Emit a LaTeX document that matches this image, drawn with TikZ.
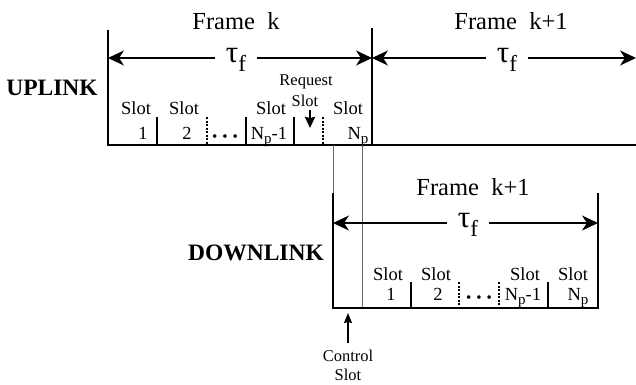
\documentclass[tikz,border=0pt]{standalone}
\usepackage{fontspec}
\setmainfont{Liberation Serif}
\usetikzlibrary{arrows.meta}
\begin{document}
\begin{tikzpicture}[x=1pt,y=-1pt,
 frameline/.style={line width=2.4pt},
 divline/.style={line width=1.5pt},
 dashdiv/.style={line width=1.1pt, dash pattern=on 2pt off 1.5pt},
 guide/.style={line width=0.8pt, draw=black!60},
 dimline/.style={line width=2pt, {Stealth[length=16pt,width=15pt,inset=5pt]}-{Stealth[length=16pt,width=15pt,inset=5pt]}},
 taulbl/.style={fill=white, inner xsep=11pt, inner ysep=1pt, anchor=base},
 framelbl/.style={font=\fontsize{24.5}{24.5}\selectfont, anchor=base, inner sep=0pt},
 linklbl/.style={font=\bfseries\fontsize{23.5}{23.5}\selectfont, anchor=base, inner sep=0pt},
 slotlbl/.style={font=\fontsize{18.5}{18.5}\selectfont, anchor=base, inner sep=0pt},
 smalllbl/.style={font=\fontsize{16.5}{16.5}\selectfont, anchor=base, inner sep=0pt},
 ptr/.style={line width=2pt, -{Stealth[length=11pt,width=10pt,inset=1pt]}},
 thinptr/.style={line width=1.3pt, -{Stealth[length=10pt,width=8pt,inset=1pt]}},
]
\newcommand{\tauf}{{\fontsize{31}{31}\selectfont τ}\raisebox{-9pt}{\fontsize{23}{23}\selectfont f}}
\newcommand{\dotsrow}{\raisebox{-2pt}{\fontsize{15}{15}\selectfont •\hspace{5pt}•\hspace{5pt}•}}
\newcommand{\Np}{N\raisebox{-4.5pt}{\fontsize{15}{15}\selectfont p}}

\useasboundingbox (0,0) rectangle (636,384);

% ---------- UPLINK ----------
\coordinate (uLt) at (108,30);
\coordinate (uLb) at (108,145);
\coordinate (uMt) at (372,28);
\coordinate (uMb) at (372,145);
\coordinate (uRb) at (636,145);
\coordinate (uaL) at (108,58);
\coordinate (uaM) at (372,58);
\coordinate (uaR) at (636,58);

\draw[frameline] (uLt) -- (uLb) -- (uRb);
\draw[frameline] (uMt) -- (uMb);
\draw[dimline] (uaL) -- (uaM);
\draw[dimline] (uaM) -- (uaR);

\node[taulbl] (tau1) at (236,62) {\tauf};
\node[taulbl] (tau2) at (507,62) {\tauf};

\node[framelbl] (frk) at (236,29) {Frame\ \ k};
\node[framelbl] (frk1) at (511,29) {Frame\ \ k+1};
\node[linklbl] (up) at (52,95) {UPLINK};

% slot dividers
\draw[divline] (157,117) -- (157,145);
\draw[dashdiv] (207,117) -- (207,145);
\draw[divline] (246,117) -- (246,145);
\draw[divline] (294,117) -- (294,145);
\draw[dashdiv] (323,117) -- (323,145);

\node[slotlbl] (us1a) at (136,114) {Slot};
\node[slotlbl] (us1b) at (143,139) {1};
\node[slotlbl] (us2a) at (184,114) {Slot};
\node[slotlbl] (us2b) at (187,139) {2};
\node[slotlbl] (usd) at (225,139) {\dotsrow};
\node[slotlbl] (us3a) at (271,114) {Slot};
\node[slotlbl] (us3b) at (269,139) {\Np-1};
\node[slotlbl] (us4a) at (348,114) {Slot};
\node[slotlbl] (us4b) at (358,139) {\Np};

\node[smalllbl] (req1) at (306,85) {Request};
\node[smalllbl] (req2) at (305,106) {Slot};
\coordinate (reqT) at (310,110);
\coordinate (reqB) at (310,128);
\draw[ptr] (reqT) -- (reqB);

% ---------- guides ----------
\coordinate (g1t) at (333,145);
\coordinate (g1b) at (333,193);
\coordinate (g2t) at (362,145);
\coordinate (g2b) at (362,308);
\draw[guide] (g1t) -- (g1b);
\draw[guide] (g2t) -- (g2b);

% ---------- DOWNLINK ----------
\coordinate (dLt) at (333,193);
\coordinate (dLb) at (333,308);
\coordinate (dRt) at (598,193);
\coordinate (dRb) at (598,308);
\coordinate (daL) at (333,223);
\coordinate (daR) at (598,223);

\draw[frameline] (dLt) -- (dLb) -- (dRb) -- (dRt);
\draw[dimline] (daL) -- (daR);
\node[taulbl] (tau3) at (468,227) {\tauf};
\node[framelbl] (frd) at (473,195) {Frame\ \ k+1};
\node[linklbl] (down) at (256,260) {DOWNLINK};

\draw[divline] (411,282) -- (411,308);
\draw[dashdiv] (459,282) -- (459,308);
\draw[dashdiv] (499,282) -- (499,308);
\draw[divline] (548,282) -- (548,308);

\node[slotlbl] (ds1a) at (388,280) {Slot};
\node[slotlbl] (ds1b) at (391,300) {1};
\node[slotlbl] (ds2a) at (436,280) {Slot};
\node[slotlbl] (ds2b) at (438,300) {2};
\node[slotlbl] (dsd) at (479,300) {\dotsrow};
\node[slotlbl] (ds3a) at (525,280) {Slot};
\node[slotlbl] (ds3b) at (523,300) {\Np-1};
\node[slotlbl] (ds4a) at (573,280) {Slot};
\node[slotlbl] (ds4b) at (578,300) {\Np};

\node[smalllbl] (ctl1) at (348,361) {Control};
\node[smalllbl] (ctl2) at (348,380) {Slot};
\coordinate (ctlB) at (348,343);
\coordinate (ctlT) at (348,313);
\draw[thinptr] (ctlB) -- (ctlT);
\end{tikzpicture}
\end{document}
